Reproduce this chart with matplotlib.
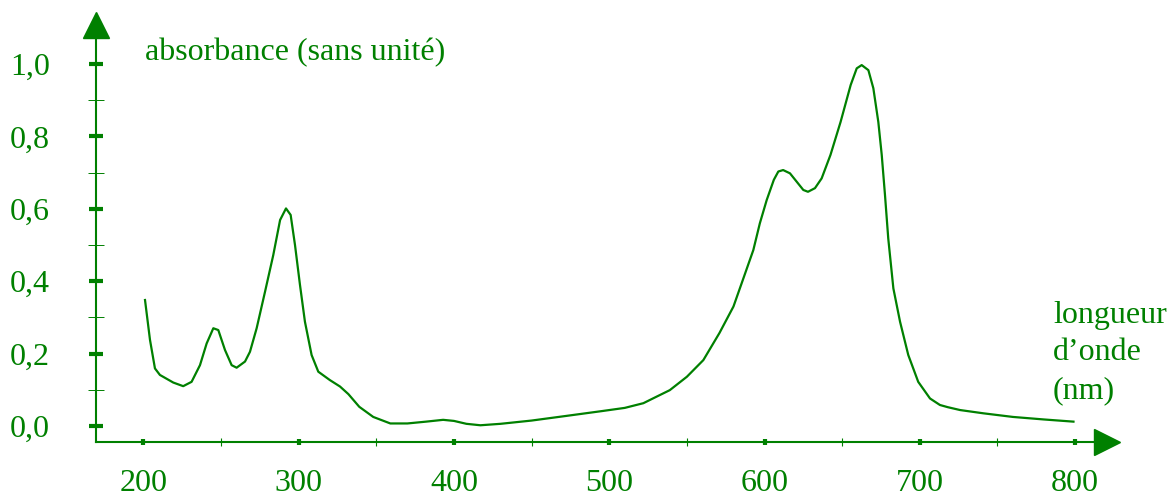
import matplotlib
matplotlib.use("Agg")
import matplotlib.pyplot as plt

# spectre
longueur = [201, 204.2, 207.4, 210.6, 219.2, 225.6, 231, 236.4, 240.7, 245,
            248.2, 252.5, 256.8, 260, 265.4, 268.6, 272.9, 278.3, 283.6, 288,
            291.8, 294.8, 297.6, 300.8, 304, 308.3, 312.6, 320, 326.6, 332, 339,
            348, 359, 370, 382, 393, 400, 408, 417, 430, 450, 472.6, 495, 510,
            522, 530, 539, 550, 560.6, 571, 580, 586, 592.8, 597, 601.4, 606,
            608.9, 612, 616.4, 620.7, 625, 628, 632.5, 636.8, 642.5, 649, 655.5,
            659.4, 662.6, 666.9, 670.1, 673.3, 675.5, 677.6, 679.7, 683, 687.3,
            692.6, 699, 706.6, 713, 718, 726, 741, 760, 780, 799]
absorbance = [0.348, 0.238, 0.159, 0.141, 0.12, 0.11, 0.122, 0.168, 0.228, 0.27,
              0.265, 0.21, 0.168, 0.161, 0.178, 0.205, 0.27, 0.371, 0.472, 0.569,
              0.601, 0.583, 0.5, 0.39, 0.288, 0.196, 0.15, 0.127, 0.109, 0.088,
              0.053, 0.025, 0.007, 0.007, 0.012, 0.017, 0.014, 0.006, 0.002,
              0.006, 0.015, 0.028, 0.041, 0.05, 0.063, 0.08, 0.099, 0.136, 0.182,
              0.257, 0.33, 0.403, 0.486, 0.56, 0.624, 0.68, 0.703, 0.707, 0.698,
              0.675, 0.652, 0.647, 0.657, 0.684, 0.749, 0.84, 0.942, 0.988, 0.997,
              0.983, 0.933, 0.84, 0.749, 0.638, 0.518, 0.38, 0.288, 0.196, 0.122,
              0.076, 0.058, 0.052, 0.044, 0.035, 0.025, 0.018, 0.012]

x_ticks = [200, 300, 400, 500, 600, 700, 800]
x_labels = ["200", "300", "400", "500", "600", "700", "800"]
y_ticks = [0.0, 0.2, 0.4, 0.6, 0.8, 1.0]
y_labels = ["0,0", "0,2", "0,4", "0,6", "0,8", "1,0"]
x_minor = [250, 350, 450, 550, 650, 750]
y_minor = [0.1, 0.3, 0.5, 0.7, 0.9]

vert = "#008000"
plt.rcParams["font.family"] = ["Liberation Serif", "DejaVu Serif"]

fig = plt.figure(figsize=(11.73, 4.99), dpi=100)
ax = fig.add_axes([0, 0, 1, 1])
ax.set_xlim(107.6, 863.1)
ax.set_ylim(-0.2017, 1.1768)
ax.patch.set_visible(False)

x0, y0 = 169.4, -0.044  # croisement des axes

for s in ["top", "right"]:
    ax.spines[s].set_visible(False)
ax.spines["left"].set_position(("data", x0))
ax.spines["bottom"].set_position(("data", y0))
ax.spines["left"].set_bounds(y0, 1.08)
ax.spines["bottom"].set_bounds(x0, 812)
for s in ["left", "bottom"]:
    ax.spines[s].set_color(vert)
    ax.spines[s].set_linewidth(1.5)

# fleches
ax.plot([x0], [1.109], marker="^", ms=18.5, color=vert, clip_on=False)
ax.plot([820.5], [y0], marker=">", ms=18.5, color=vert, clip_on=False)

ax.set_xticks(x_ticks)
ax.set_xticklabels(x_labels)
ax.set_yticks(y_ticks)
ax.set_yticklabels(y_labels)
ax.set_xticks(x_minor, minor=True)
ax.set_yticks(y_minor, minor=True)

ax.tick_params(axis="x", which="major", direction="inout", length=4.5, width=3,
               color=vert, labelcolor=vert, labelsize=23, pad=17)
ax.tick_params(axis="x", which="minor", direction="inout", length=5.5, width=0.8,
               color=vert)
ax.tick_params(axis="y", which="major", direction="inout", length=10, width=3,
               color=vert, labelcolor=vert, labelsize=23, pad=28)
ax.tick_params(axis="y", which="minor", direction="inout", length=12, width=0.7,
               color=vert)

ax.plot(longueur, absorbance, color=vert, lw=1.6, solid_joinstyle="round")

ax.text(201, 1.011, "absorbance (sans unité)", color=vert, fontsize=23,
        va="baseline", ha="left")
for i, ligne in enumerate(["longueur", "d\u2019onde", "(nm)"]):
    ax.text(785.8, 0.284 - i * 0.103, ligne, color=vert, fontsize=23,
            va="baseline", ha="left")

fig.savefig("out.png", dpi=100)
